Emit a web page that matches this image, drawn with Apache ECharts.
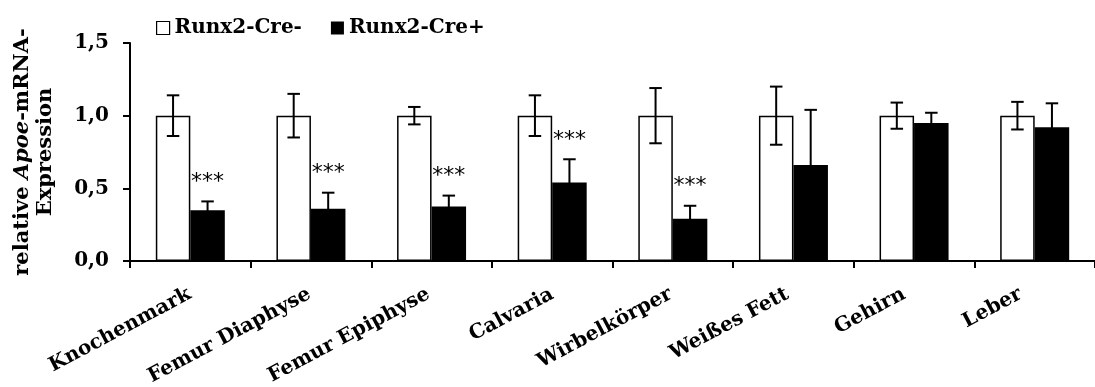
<!DOCTYPE html>
<html>
<head>
<meta charset="utf-8">
<script src="https://cdn.jsdelivr.net/npm/echarts@6/dist/echarts.min.js"></script>
<style>
  html, body { margin: 0; padding: 0; background: #fff; }
  #chart { width: 1095px; height: 387px; }
</style>
</head>
<body>
<div id="chart"></div>
<script>
// Tissue panel: relative Apoe-mRNA expression, Runx2-Cre- vs Runx2-Cre+
const categories = ['Knochenmark', 'Femur Diaphyse', 'Femur Epiphyse', 'Calvaria',
                    'Wirbelkörper', 'Weißes Fett', 'Gehirn', 'Leber'];
const seriesNames = ['Runx2-Cre-', 'Runx2-Cre+'];
const creNeg   = [1.00, 1.00, 1.00, 1.00, 1.00, 1.00, 1.00, 1.00];
const creNegSd = [0.14, 0.15, 0.06, 0.14, 0.19, 0.20, 0.09, 0.095];
const crePos   = [0.35, 0.36, 0.375, 0.54, 0.29, 0.66, 0.95, 0.92];
const crePosSd = [0.06, 0.11, 0.075, 0.16, 0.09, 0.38, 0.07, 0.165];
const significance = ['***', '***', '***', '***', '***', '', '', ''];
const yTicks = { min: 0, max: 1.5, step: 0.5 };

// layout / styling constants
const SERIF = '"DejaVu Serif", "Liberation Serif", serif';
const BAR_W = 34.5;
const CAP_W = 12.5;
const LABEL_ROT = 28;
const LABEL_DROP = 32;
const LABEL_DX = [-0.5, -1.5, -3, 0, -2, -6, -10, -14];

const chart = echarts.init(document.getElementById('chart'), null, { renderer: 'canvas' });

function errorBars(means, sds, side) {
  return {
    type: 'custom',
    name: side < 0 ? 'err-neg' : 'err-pos',
    clip: false,
    z: 5,
    encode: { x: 0, y: 1 },
    data: means.map((m, i) => [i, m, sds[i]]),
    renderItem: function (params, api) {
      const i = api.value(0), m = api.value(1), s = api.value(2);
      const c = api.coord([i, m]);
      const hi = api.coord([i, m + s]);
      const lo = api.coord([i, m - s]);
      const x = c[0] + side * BAR_W / 2;
      const st = { stroke: '#000', lineWidth: 2 };
      return {
        type: 'group',
        children: [
          { type: 'line', shape: { x1: x, y1: lo[1], x2: x, y2: hi[1] }, style: st },
          { type: 'line', shape: { x1: x - CAP_W / 2, y1: hi[1], x2: x + CAP_W / 2, y2: hi[1] }, style: st },
          { type: 'line', shape: { x1: x - CAP_W / 2, y1: lo[1], x2: x + CAP_W / 2, y2: lo[1] }, style: st }
        ]
      };
    }
  };
}

const option = {
  backgroundColor: '#fff',
  animation: false,
  grid: { left: 130, top: 43, width: 970, height: 218, containLabel: false },
  legend: {
    left: 151,
    top: 13,
    icon: 'rect',
    itemWidth: 13,
    itemHeight: 13,
    itemGap: 29,
    textStyle: { fontFamily: SERIF, fontWeight: 'bold', fontSize: 20, color: '#000' },
    data: [
      { name: seriesNames[0], itemStyle: { color: '#fff', borderColor: '#000', borderWidth: 1.2 } },
      { name: seriesNames[1], itemStyle: { color: '#000', borderWidth: 0 } }
    ]
  },
  xAxis: {
    type: 'category',
    data: categories,
    boundaryGap: true,
    axisLine: { lineStyle: { color: '#000', width: 2 } },
    axisTick: { show: true, length: 7, lineStyle: { color: '#000', width: 2 } },
    axisLabel: { show: false },
    splitLine: { show: false }
  },
  yAxis: {
    type: 'value',
    min: yTicks.min,
    max: yTicks.max,
    interval: yTicks.step,
    name: 'relative {i|Apoe}-mRNA-\nExpression',
    nameLocation: 'middle',
    nameRotate: 90,
    nameGap: 73,
    nameTextStyle: {
      fontFamily: SERIF, fontWeight: 'bold', fontSize: 21, color: '#000', lineHeight: 23, align: 'center',
      rich: { i: { fontFamily: SERIF, fontWeight: 'bold', fontStyle: 'italic', fontSize: 21, color: '#000' } }
    },
    axisLine: { show: true, lineStyle: { color: '#000', width: 2 } },
    axisTick: { show: true, length: 7, lineStyle: { color: '#000', width: 2 } },
    axisLabel: {
      margin: 21,
      fontFamily: SERIF, fontWeight: 'bold', fontSize: 20, color: '#000',
      formatter: v => v.toFixed(1).replace('.', ',')
    },
    splitLine: { show: false }
  },
  series: [
    {
      name: seriesNames[0],
      type: 'bar',
      data: creNeg,
      barWidth: BAR_W,
      barGap: '0%',
      itemStyle: { color: '#fff', borderColor: '#000', borderWidth: 1.5 }
    },
    {
      name: seriesNames[1],
      type: 'bar',
      data: crePos,
      barWidth: BAR_W,
      barGap: '0%',
      itemStyle: { color: '#000' }
    },
    errorBars(creNeg, creNegSd, -1),
    errorBars(crePos, crePosSd, 1),
    {
      // significance stars above the Cre+ error bars
      type: 'custom',
      name: 'stars',
      clip: false,
      z: 6,
      encode: { x: 0, y: 1 },
      data: crePos.map((m, i) => [i, m + crePosSd[i]]),
      renderItem: function (params, api) {
        const i = api.value(0);
        const p = api.coord([i, api.value(1)]);
        return {
          type: 'text',
          x: p[0] + BAR_W / 2,
          y: p[1] - 19,
          style: {
            text: significance[params.dataIndex],
            font: 'normal 22px "DejaVu Sans", sans-serif',
            fill: '#000',
            align: 'center',
            verticalAlign: 'middle'
          }
        };
      }
    },
    {
      // rotated category labels below the axis
      type: 'custom',
      name: 'labels',
      clip: false,
      silent: true,
      encode: { x: 0, y: 1 },
      data: categories.map((c, i) => [i, 0]),
      renderItem: function (params, api) {
        const i = api.value(0);
        const p = api.coord([i, 0]);
        return {
          type: 'text',
          x: p[0] + LABEL_DX[params.dataIndex],
          y: p[1] + LABEL_DROP,
          rotation: LABEL_ROT * Math.PI / 180,
          style: {
            text: categories[params.dataIndex],
            font: 'bold 20px ' + SERIF,
            fill: '#000',
            align: 'right',
            verticalAlign: 'middle'
          }
        };
      }
    }
  ]
};

chart.setOption(option);
</script>
</body>
</html>
